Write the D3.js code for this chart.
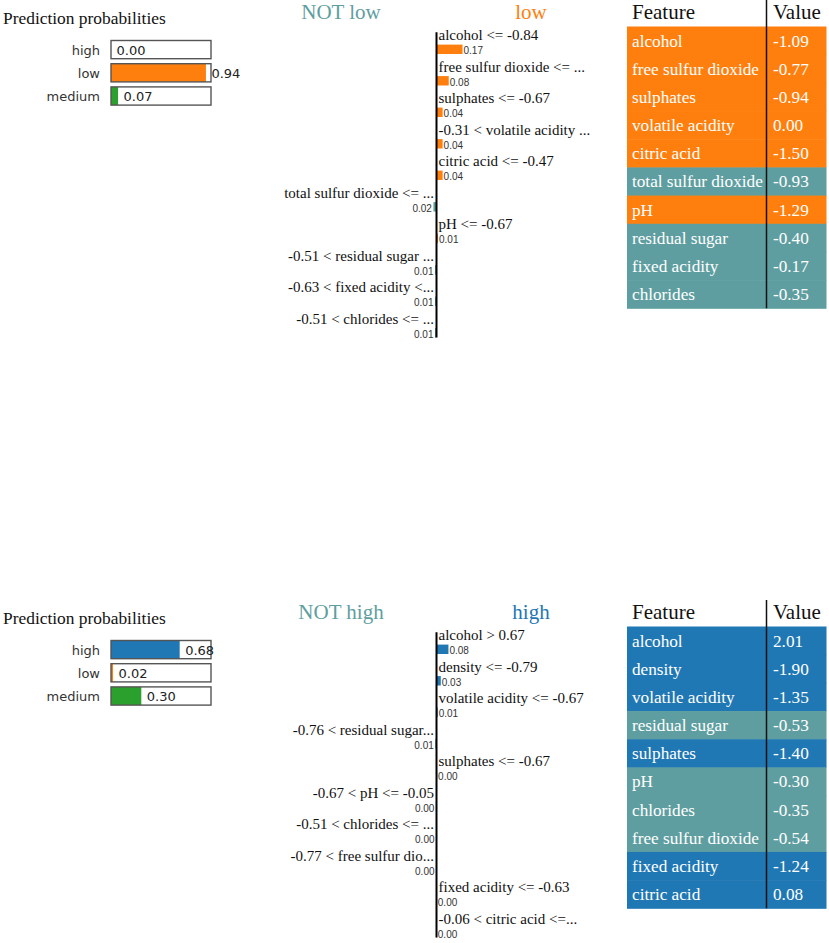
<!DOCTYPE html>
<html>
<head>
<meta charset="utf-8">
<script src="https://cdn.jsdelivr.net/npm/d3@7"></script>
<style>
  html, body { margin: 0; padding: 0; background: #fff; }
  svg { display: block; }
</style>
</head>
<body>
<svg id="chart" width="829" height="943"></svg>
<script>
// ---------------- data ----------------
const classNames = ["high", "low", "medium"];
const classColors = ["#1f77b4", "#ff7f0e", "#2ca02c"];
const negColor = "#5f9ea0";

// panel 1 : explanation for class "low"
const probs1 = [0.00, 0.94, 0.07];
const label1 = "low";
const expNames1 = ["alcohol <= -0.84", "free sulfur dioxide <= ...", "sulphates <= -0.67",
  "-0.31 < volatile acidity ...", "citric acid <= -0.47", "total sulfur dioxide <= ...",
  "pH <= -0.67", "-0.51 < residual sugar ...", "-0.63 < fixed acidity <...", "-0.51 < chlorides <= ..."];
const expWeights1 = [0.17, 0.08, 0.04, 0.04, 0.04, -0.02, 0.01, -0.01, -0.01, -0.01];
const tableFeatures1 = ["alcohol", "free sulfur dioxide", "sulphates", "volatile acidity", "citric acid",
  "total sulfur dioxide", "pH", "residual sugar", "fixed acidity", "chlorides"];
const tableValues1 = ["-1.09", "-0.77", "-0.94", "0.00", "-1.50", "-0.93", "-1.29", "-0.40", "-0.17", "-0.35"];

// panel 2 : explanation for class "high"
const probs2 = [0.68, 0.02, 0.30];
const label2 = "high";
const expNames2 = ["alcohol > 0.67", "density <= -0.79", "volatile acidity <= -0.67",
  "-0.76 < residual sugar...", "sulphates <= -0.67", "-0.67 < pH <= -0.05",
  "-0.51 < chlorides <= ...", "-0.77 < free sulfur dio...", "fixed acidity <= -0.63", "-0.06 < citric acid <=..."];
const expWeights2 = [0.078, 0.028, 0.008, -0.008, 0.004, -0.004, -0.003, -0.003, 0.002, 0.002];
const tableFeatures2 = ["alcohol", "density", "volatile acidity", "residual sugar", "sulphates",
  "pH", "chlorides", "free sulfur dioxide", "fixed acidity", "citric acid"];
const tableValues2 = ["2.01", "-1.90", "-1.35", "-0.53", "-1.40", "-0.30", "-0.35", "-0.54", "-1.24", "0.08"];

const panels = [
  {probs: probs1, label: label1, names: expNames1, weights: expWeights1, feats: tableFeatures1, vals: tableValues1, dy: 0},
  {probs: probs2, label: label2, names: expNames2, weights: expWeights2, feats: tableFeatures2, vals: tableValues2, dy: 600}
];

// ---------------- drawing ----------------
const svg = d3.select("#chart");
const SERIF = "'Liberation Serif', 'Times New Roman', serif";
const SANS = "'DejaVu Sans', Verdana, sans-serif";
const SMALL = "'Liberation Sans', Arial, sans-serif";

panels.forEach(p => {
  const g = svg.append("g").attr("transform", `translate(0,${p.dy})`);
  const labelColor = classColors[classNames.indexOf(p.label)];

  // ---- prediction probabilities ----
  g.append("text").attr("x", 3).attr("y", 24)
    .style("font-family", SERIF).style("font-size", "17.4px").attr("fill", "#111")
    .text("Prediction probabilities");

  const px = d3.scaleLinear().domain([0, 1]).range([0, 101]);
  const py = d3.scaleLinear().domain([0, 1]).range([40.5, 63.7]);
  const barX = 111, boxH = 18.2;

  const rows = g.append("g").selectAll("g").data(classNames).join("g")
    .attr("transform", (d, i) => `translate(0,${py(i)})`);
  rows.append("rect").attr("x", barX).attr("y", 0).attr("height", boxH)
    .attr("width", (d, i) => px(p.probs[i])).attr("fill", (d, i) => classColors[i]);
  rows.append("rect").attr("x", barX).attr("y", 0).attr("height", boxH).attr("width", 100)
    .attr("fill", "none").attr("stroke", "#555").attr("stroke-width", 1.4);
  rows.append("text").attr("x", (d, i) => barX + px(p.probs[i]) + 5.5).attr("y", 14.6)
    .style("font-family", SANS).style("font-size", "13px").attr("fill", "#222")
    .text((d, i) => p.probs[i].toFixed(2));
  rows.append("text").attr("x", 100).attr("y", 14.6).attr("text-anchor", "end")
    .style("font-family", SANS).style("font-size", "13px").attr("fill", "#333")
    .text(d => d);

  // ---- explanation bar chart ----
  const axisX = 436.5;
  g.append("text").attr("x", 341).attr("y", 19).attr("text-anchor", "middle")
    .style("font-family", SERIF).style("font-size", "21px").attr("fill", negColor)
    .text("NOT " + p.label);
  g.append("text").attr("x", 531).attr("y", 19).attr("text-anchor", "middle")
    .style("font-family", SERIF).style("font-size", "21px").attr("fill", labelColor)
    .text(p.label);

  const wx = d3.scaleLinear().domain([0, 1]).range([0, 153]);
  const ry = d3.scaleLinear().domain([0, p.names.length]).range([22.6, 337.6]);

  const er = g.append("g").selectAll("g").data(p.names).join("g")
    .attr("transform", (d, i) => `translate(0,${ry(i) + 17.4})`);
  er.append("text")
    .attr("x", (d, i) => p.weights[i] > 0 ? axisX + 2 : axisX - 2.5)
    .attr("y", 0)
    .attr("text-anchor", (d, i) => p.weights[i] > 0 ? "start" : "end")
    .style("font-family", SERIF).style("font-size", "15px").attr("fill", "#111")
    .text(d => d);
  er.append("rect")
    .attr("x", (d, i) => p.weights[i] > 0 ? axisX : axisX - wx(Math.abs(p.weights[i])))
    .attr("y", 4.6).attr("height", 9.4)
    .attr("width", (d, i) => wx(Math.abs(p.weights[i])))
    .attr("fill", (d, i) => p.weights[i] > 0 ? labelColor : negColor);
  er.append("text")
    .attr("x", (d, i) => p.weights[i] > 0 ? axisX + wx(Math.abs(p.weights[i])) + 1 : axisX - wx(Math.abs(p.weights[i])) - 1.5)
    .attr("y", 14)
    .attr("text-anchor", (d, i) => p.weights[i] > 0 ? "start" : "end")
    .style("font-family", SMALL).style("font-size", "10px").attr("fill", "#333")
    .text((d, i) => Math.abs(p.weights[i]).toFixed(2));

  g.append("line").attr("x1", axisX).attr("x2", axisX)
    .attr("y1", 32.3).attr("y2", ry(p.names.length))
    .attr("stroke", "#000").attr("stroke-width", 2);

  // ---- feature / value table ----
  const tL = 627, tSep = 766.5, tR = 826.5;
  const ty = d3.scaleLinear().domain([0, p.feats.length]).range([26.5, 308.3]);
  const rowH = ty(1) - ty(0);
  g.append("text").attr("x", tL + 5).attr("y", 19)
    .style("font-family", SERIF).style("font-size", "21px").attr("fill", "#111").text("Feature");
  g.append("text").attr("x", tSep + 6.5).attr("y", 19)
    .style("font-family", SERIF).style("font-size", "21px").attr("fill", "#111").text("Value");

  const tr = g.append("g").selectAll("g").data(p.feats).join("g")
    .attr("transform", (d, i) => `translate(0,${ty(i)})`);
  tr.append("rect").attr("x", tL).attr("y", 0).attr("width", tR - tL).attr("height", rowH + 0.5)
    .attr("fill", (d, i) => p.weights[i] > 0 ? labelColor : (p.weights[i] < 0 ? negColor : "none"));
  tr.append("text").attr("x", tL + 5).attr("y", 20)
    .style("font-family", SERIF).style("font-size", "17.2px")
    .attr("fill", (d, i) => p.weights[i] === 0 ? "#000" : "#fff").text(d => d);
  tr.append("text").attr("x", tSep + 6.5).attr("y", 20)
    .style("font-family", SERIF).style("font-size", "17.2px")
    .attr("fill", (d, i) => p.weights[i] === 0 ? "#000" : "#fff").text((d, i) => p.vals[i]);

  g.append("line").attr("x1", tSep).attr("x2", tSep).attr("y1", 0).attr("y2", ty(p.feats.length))
    .attr("stroke", "#111").attr("stroke-width", 1.5);
});
</script>
</body>
</html>
